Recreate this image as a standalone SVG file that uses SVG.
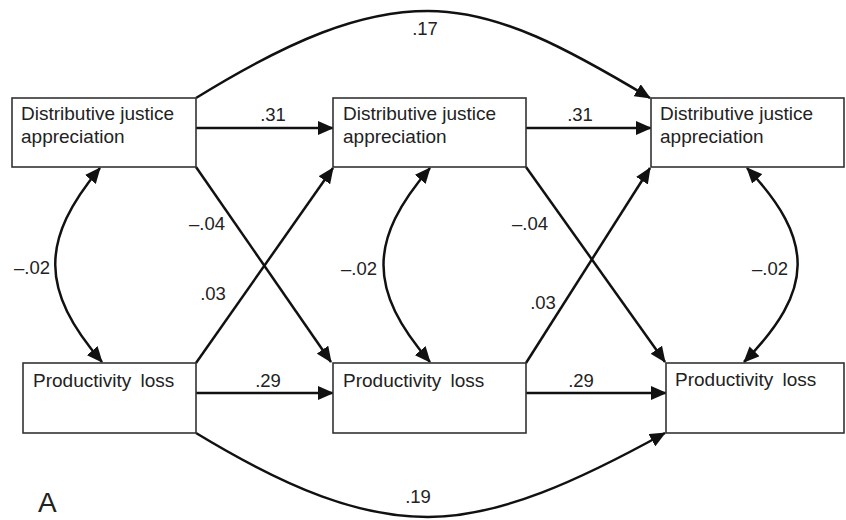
<svg xmlns="http://www.w3.org/2000/svg" width="846" height="520" viewBox="0 0 846 520">
<style>
.box{fill:#fff;stroke:#333;stroke-width:1.6}
.t{font-family:"Liberation Sans",Arial,sans-serif;font-size:19px;fill:#222}
.l{font-family:"Liberation Sans",Arial,sans-serif;font-size:18.5px;fill:#222;text-anchor:middle}
.c{fill:none;stroke:#111;stroke-width:2.5}
</style>
<defs>
<marker id="ah" viewBox="0 0 16 14" refX="15" refY="7" markerWidth="16" markerHeight="14" markerUnits="userSpaceOnUse" orient="auto-start-reverse">
<path d="M0,0 L16,7 L0,14 z" fill="#111"/>
</marker>
</defs>
<rect width="846" height="520" fill="#fff"/>
<g id="connectors">
<path class="c" d="M196,128 L333,128" marker-end="url(#ah)"/>
<path class="c" d="M526,128 L651,128" marker-end="url(#ah)"/>
<path class="c" d="M196,393 L333,393" marker-end="url(#ah)"/>
<path class="c" d="M526,393 L666,393" marker-end="url(#ah)"/>
<path class="c" d="M196,167 L331,362" marker-end="url(#ah)"/>
<path class="c" d="M196,363 L333,168" marker-end="url(#ah)"/>
<path class="c" d="M526,167 L665,362" marker-end="url(#ah)"/>
<path class="c" d="M526,363 L650,168" marker-end="url(#ah)"/>
<path class="c" d="M100,168 C40,240 40,290 102,362" marker-start="url(#ah)" marker-end="url(#ah)"/>
<path class="c" d="M430,168 C368,240 368,290 430,362" marker-start="url(#ah)" marker-end="url(#ah)"/>
<path class="c" d="M747,168 C815,240 815,290 744,362" marker-start="url(#ah)" marker-end="url(#ah)"/>
<path class="c" d="M196,98 C290,40 360,11 428,11 C500,11 570,50 650,98" marker-end="url(#ah)"/>
<path class="c" d="M196,433 C290,490 360,517 428,517 C500,517 580,480 665,433" marker-end="url(#ah)"/>
<text class="l" x="273" y="121">.31</text>
<text class="l" x="580" y="121">.31</text>
<text class="l" x="268" y="387">.29</text>
<text class="l" x="581" y="387">.29</text>
<text class="l" x="207" y="230">–.04</text>
<text class="l" x="530" y="230">–.04</text>
<text class="l" x="213" y="300">.03</text>
<text class="l" x="543" y="309">.03</text>
<text class="l" x="32" y="274">–.02</text>
<text class="l" x="359" y="275">–.02</text>
<text class="l" x="770" y="275">–.02</text>
<text class="l" x="425" y="35">.17</text>
<text class="l" x="418" y="503">.19</text>
</g>
<g id="n1"><rect class="box" x="12" y="98" width="184" height="69"/><text class="t" x="21" y="120">Distributive justice</text><text class="t" x="21" y="143">appreciation</text></g>
<g id="n2"><rect class="box" x="333" y="98" width="193" height="69"/><text class="t" x="343" y="120">Distributive justice</text><text class="t" x="343" y="143">appreciation</text></g>
<g id="n3"><rect class="box" x="651" y="98" width="193" height="69"/><text class="t" x="660" y="120">Distributive justice</text><text class="t" x="660" y="143">appreciation</text></g>
<g id="n4"><rect class="box" x="23" y="363" width="173" height="70"/><text class="t" x="33" y="387" word-spacing="4">Productivity loss</text></g>
<g id="n5"><rect class="box" x="333" y="363" width="193" height="70"/><text class="t" x="343" y="387" word-spacing="4">Productivity loss</text></g>
<g id="n6"><rect class="box" x="666" y="363" width="178" height="70"/><text class="t" x="675" y="386" word-spacing="4">Productivity loss</text></g>
<text x="38" y="512" style="font-family:'Liberation Sans',Arial,sans-serif;font-size:28px;fill:#222">A</text>
</svg>
